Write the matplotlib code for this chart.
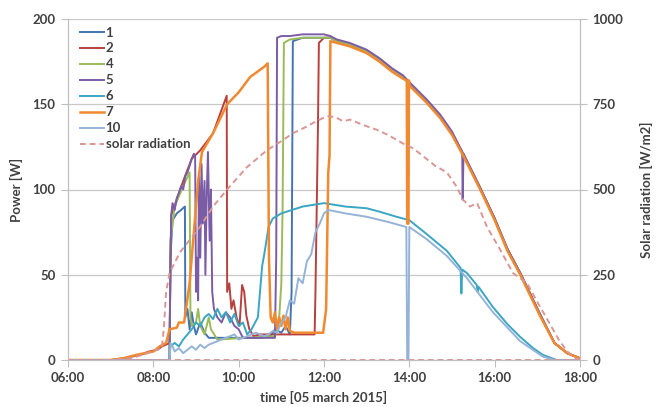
import matplotlib.pyplot as plt
from matplotlib.ticker import FuncFormatter

# time in hours of day, power in W
# shared high curve once an inverter string is at full power
top_t = [10.95, 11.2, 11.5, 11.8, 12.0, 12.15, 12.3, 12.6, 13.0, 13.3, 13.6, 13.85, 14.0, 14.4,
         14.72, 15.0, 15.26, 15.66, 16.0, 16.3, 16.6, 17.06, 17.4, 17.7, 18.0]
top_w = [187, 188, 189, 189, 189, 189, 187, 185, 181, 176, 170, 166, 162, 152,
         143, 133, 121, 101, 83, 65, 51, 27, 10, 4, 1]

s1_t = [6, 8.38, 8.40, 8.45, 8.55, 8.65, 8.74, 8.75, 8.8, 8.85, 8.9, 8.95, 9.0, 9.1, 9.2, 9.3,
        10.5, 10.75, 10.85, 11.0, 11.1, 11.2, 11.24, 11.27]
s1_w = [0, 0, 60, 82, 86, 88, 90, 25, 30, 18, 28, 20, 15, 22, 16, 13,
        13, 14, 18, 16, 20, 15, 40, 187]

s2_t = [6, 7.0, 7.3, 7.5, 7.7, 7.9, 8.1, 8.2, 8.3, 8.38, 8.42, 8.7, 8.9, 9.1, 9.4, 9.72, 9.73,
        9.78, 9.83, 9.88, 9.95, 10.02, 10.08, 10.13, 10.18, 10.25, 10.35, 10.5, 11.78, 11.80,
        11.83, 11.86, 11.88]
s2_w = [0, 0, 1, 2, 3, 5, 6, 8, 9, 10, 85, 105, 118, 123, 133, 155, 40,
        45, 30, 35, 25, 20, 44, 40, 26, 18, 14, 15, 15, 40,
        90, 140, 186]

s4_t = [6, 8.38, 8.40, 8.5, 8.7, 8.85, 8.87, 8.9, 9.0, 9.05, 9.1, 9.2, 9.3, 9.35, 9.5, 10.85,
        10.95, 11.0, 11.03, 11.06]
s4_w = [0, 0, 70, 90, 102, 110, 25, 20, 22, 30, 20, 15, 25, 18, 12, 14,
        25, 45, 90, 186]

s5_t = [6, 8.38, 8.40, 8.42, 8.45, 8.5, 8.55, 8.6, 8.65, 8.7, 8.75, 8.8, 8.85, 8.9, 8.95, 8.98,
        9.0, 9.02, 9.05, 9.07, 9.1, 9.13, 9.16, 9.2, 9.22, 9.25, 9.28, 9.32, 9.35, 9.38, 9.42,
        9.5, 9.6, 9.7, 9.8, 9.9, 10.0, 10.1, 10.85, 10.88, 10.9, 11.0, 11.2, 11.5, 11.8, 12.0,
        12.15, 12.3, 12.6, 13.0, 13.3, 13.6, 13.85, 14.0, 14.4, 14.72, 15.0, 15.24, 15.25,
        15.27, 15.66, 16.0, 16.3, 16.6, 17.06, 17.4, 17.7, 18.0]
s5_w = [0, 0, 60, 85, 92, 88, 95, 98, 102, 100, 108, 110, 114, 118, 121, 119,
        40, 60, 35, 110, 60, 115, 80, 105, 50, 95, 122, 70, 100, 40, 30,
        25, 22, 28, 25, 20, 18, 13, 13, 60, 189, 190, 190, 191, 191, 191,
        190, 188, 186, 182, 177, 171, 167, 163, 153, 144, 134, 122, 94,
        121, 101, 83, 65, 51, 27, 10, 4, 1]

s6_t = [6, 8.38, 8.40, 8.5, 8.6, 8.7, 8.8, 8.9, 9.0, 9.1, 9.2, 9.3, 9.4, 9.5, 9.6, 9.7, 9.8,
        9.9, 10.0, 10.1, 10.2, 10.3, 10.45, 10.5, 10.55, 10.6, 10.65, 10.7, 10.8, 11.0, 11.5,
        12.0, 12.5, 13.0, 13.3, 13.7, 14.0, 14.4, 14.88, 15.2, 15.22, 15.24, 15.35, 15.58,
        15.6, 15.62, 15.96, 16.3, 16.6, 16.9, 17.13, 17.45, 18.0]
s6_w = [0, 0, 8, 10, 8, 12, 15, 18, 22, 20, 25, 27, 24, 30, 25, 28, 22,
        27, 20, 22, 15, 18, 25, 40, 55, 62, 70, 78, 83, 86, 90,
        92, 90, 89, 87, 84, 82, 74, 64, 54, 39, 53, 51, 44,
        40, 43, 31, 21, 13.5, 7, 3, 0, 0]

s7_t = [6, 7.0, 7.3, 7.6, 7.8, 8.0, 8.15, 8.3, 8.38, 8.55, 8.6, 8.72, 8.75, 8.85, 8.95, 9.05,
        9.14, 9.4, 9.73, 10.0, 10.27, 10.6, 10.68, 10.71, 10.75, 10.8, 10.85, 10.9, 10.95, 11.0,
        11.05, 11.1, 11.15, 11.2, 11.3, 11.98, 12.05, 12.1, 12.13, 12.15, 12.3, 12.6, 13.0,
        13.3, 13.6, 13.85, 13.94, 13.95, 13.98, 13.99, 14.0, 14.4, 14.72, 15.0, 15.26, 15.66,
        16.0, 16.3, 16.6, 17.06, 17.4, 17.7, 18.0]
s7_w = [0, 0, 1, 3, 4, 5, 8, 10, 18, 19, 22, 22, 27, 45, 75, 105,
        122, 133, 150, 157, 166, 172, 174, 60, 25, 22, 28, 18, 25, 20,
        26, 18, 25, 17, 16, 16, 30, 110, 120, 187, 186, 184, 180,
        175, 169, 165, 164, 80, 80, 164, 161, 151, 142, 132, 120, 100,
        82, 64, 50, 26, 10, 4, 1]

s10_t = [6, 8.38, 8.40, 8.45, 8.5, 8.6, 8.7, 8.8, 8.9, 9.0, 9.1, 9.2, 9.3, 9.5, 9.7, 9.9, 10.0,
         10.2, 10.4, 10.6, 10.7, 10.8, 10.9, 11.0, 11.1, 11.2, 11.3, 11.4, 11.5, 11.6, 11.7,
         11.8, 11.9, 12.0, 12.1, 12.5, 13.0, 13.5, 13.93, 13.95, 13.98, 14.0, 14.4, 14.88,
         15.35, 15.96, 16.6, 17.13, 17.4, 18.0]
s10_w = [0, 0, 10, 8, 5, 7, 4, 6, 8, 6, 9, 7, 9, 11, 13, 15, 12,
         14, 16, 14, 15, 17, 16, 22, 25, 35, 33, 48, 45, 58, 62,
         75, 80, 86, 88, 86, 84, 81, 78, 0, 0, 78, 71, 61,
         48, 28, 11, 2, 0, 0]

# solar radiation, W/m2
rad_t = [6.0, 7.0, 7.5, 7.87, 8.2, 8.25, 8.3, 8.38, 8.62, 9.09, 9.4, 9.73, 10.19, 10.66, 11.04,
         11.27, 11.44, 11.6, 11.74, 11.9, 12.07, 12.14, 12.3, 12.45, 12.61, 12.9, 13.24, 13.5,
         13.85, 14.1, 14.3, 14.6, 14.88, 15.1, 15.26, 15.42, 15.59, 15.82, 16.1, 16.43, 16.76,
         17.0, 17.23, 17.5, 17.7, 17.9, 18.0]
rad_w = [0, 0, 6, 20, 35, 100, 200, 255, 315, 390, 450, 500, 565, 615, 645,
         665, 675, 685, 695, 705, 715, 715, 710, 700, 705, 690, 675, 660,
         635, 620, 600, 570, 550, 510, 470, 450, 460, 390, 330, 255, 225,
         170, 120, 60, 25, 5, 0]


def with_top(t, w):
    # append the shared full-power curve after the join time
    t2 = list(t) + [x for x in top_t if x > t[-1]]
    w2 = list(w) + [y for x, y in zip(top_t, top_w) if x > t[-1]]
    return t2, w2


s1_t, s1_w = with_top(s1_t, s1_w)
s2_t, s2_w = with_top(s2_t, s2_w)
s4_t, s4_w = with_top(s4_t, s4_w)

plt.rcParams['font.family'] = ['Lato', 'DejaVu Sans']
txt = '#404040'
fs = 9.5

fig = plt.figure(figsize=(6.62, 4.07), dpi=100)
ax = fig.add_axes([68 / 662, 1 - 360 / 407, 512 / 662, 341 / 407])
ax2 = ax.twinx()

lw = 1.4
ax.plot(s1_t, s1_w, color='#4474B4', lw=lw, label='1')
ax.plot(s2_t, s2_w, color='#B8403D', lw=lw, label='2')
ax.plot(s4_t, s4_w, color='#9BBB59', lw=lw, label='4')
ax.plot(s5_t, s5_w, color='#7B5CA6', lw=lw, label='5')
ax.plot(s6_t, s6_w, color='#3AA6C2', lw=lw, label='6')
ax.plot(s7_t, s7_w, color='#F0892F', lw=1.8, label='7')
ax.plot(s10_t, s10_w, color='#95B3D7', lw=lw, label='10')
ax.plot([], [], color='#D99694', lw=1.4, ls=(0, (3, 2)), label='solar radiation')

ax2.plot(rad_t, rad_w, color='#D99694', lw=1.4, ls=(0, (3, 2)))
ax2.axhline(0, color='#D99694', lw=1.4, ls=(0, (3, 2)))

ax.set_xlim(6, 18)
ax.set_ylim(0, 200)
ax2.set_ylim(0, 1000)
ax.set_xticks([6, 8, 10, 12, 14, 16, 18])
ax.xaxis.set_major_formatter(FuncFormatter(lambda v, p: '%02d:00' % int(v)))
ax.set_yticks([0, 50, 100, 150, 200])
ax2.set_yticks([0, 250, 500, 750, 1000])

ax.grid(axis='y', color='#c8c8c8', lw=0.9)
ax.set_axisbelow(True)
for a in (ax, ax2):
    for s in a.spines.values():
        s.set_color('#bfbfbf')
    a.spines['top'].set_visible(False)
    a.tick_params(colors='#bfbfbf', labelcolor=txt, labelsize=fs, length=5, pad=4)
    for lab in a.get_xticklabels() + a.get_yticklabels():
        lab.set_fontweight('bold')

ax.set_xlabel('time [05 march 2015]', fontsize=fs, fontweight='bold', color=txt, labelpad=5)
ax.set_ylabel('Power [W]', fontsize=fs, fontweight='bold', color=txt, labelpad=7)
ax2.set_ylabel('Solar radiation [W/m2]', fontsize=fs, fontweight='bold', color=txt, labelpad=12)

leg = ax.legend(loc='upper left', bbox_to_anchor=(0.005, 1.005), frameon=False, fontsize=fs,
                handlelength=1.8, handletextpad=0.15, labelspacing=0.3, borderaxespad=0.3)
for t in leg.get_texts():
    t.set_fontweight('bold')
    t.set_color(txt)

fig.savefig('out.png', dpi=100)
